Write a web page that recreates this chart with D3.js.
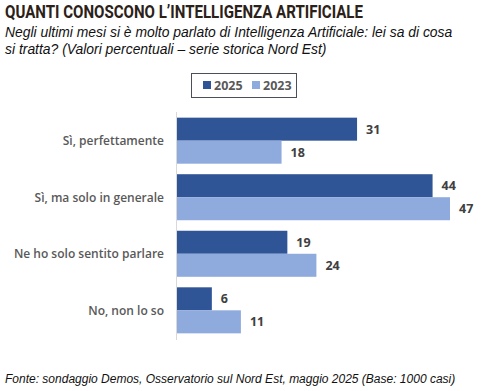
<!DOCTYPE html>
<html><head><meta charset="utf-8">
<script src="https://cdn.jsdelivr.net/npm/d3@7"></script>
<style>body{margin:0;background:#fff}</style>
</head><body>
<script>
const categories = ["Sì, perfettamente", "Sì, ma solo in generale", "Ne ho solo sentito parlare", "No, non lo so"];
const seriesNames = ["2025", "2023"];
const values2025 = [31, 44, 19, 6];
const values2023 = [18, 47, 24, 11];
const colors = ["#2F5597", "#8FAADC"];

const W = 485, H = 391;
const svg = d3.select("body").append("svg").attr("width", W).attr("height", H);
svg.append("rect").attr("width", W).attr("height", H).attr("fill", "#fff");

svg.append("text").attr("x", 5).attr("y", 18)
  .attr("font-family", "Roboto").attr("font-weight", 700).attr("font-size", 18)
  .attr("fill", "#2b2118").attr("textLength", 358).attr("lengthAdjust", "spacingAndGlyphs")
  .text("QUANTI CONOSCONO L’INTELLIGENZA ARTIFICIALE");

const sub = ["Negli ultimi mesi si è molto parlato di Intelligenza Artificiale: lei sa di cosa",
             "si tratta? (Valori percentuali – serie storica Nord Est)"];
sub.forEach((t, i) => svg.append("text").attr("x", 5).attr("y", 37 + i * 17)
  .attr("font-family", "Liberation Sans, Arial").attr("font-style", "italic").attr("font-size", 13.9)
  .attr("fill", "#111").text(t));

// legend
const lg = svg.append("g");
lg.append("rect").attr("x", 191.5).attr("y", 73.5).attr("width", 105).attr("height", 24)
  .attr("fill", "none").attr("stroke", "#4a4f5a").attr("stroke-width", 1);
const legX = [203, 252];
seriesNames.forEach((s, i) => {
  lg.append("rect").attr("x", legX[i]).attr("y", 81).attr("width", 8).attr("height", 8).attr("fill", colors[i]);
  lg.append("text").attr("x", legX[i] + 11).attr("y", 90)
    .attr("font-family", "Open Sans").attr("font-weight", 700).attr("font-size", 12.5)
    .attr("fill", "#595959").text(s);
});

const x0 = 177;
const x = d3.scaleLinear().domain([0, 47]).range([x0, 450]);
const y = d3.scaleBand().domain(categories).range([112, 339]).paddingInner(0.186).paddingOuter(0.1);
const ySub = d3.scaleBand().domain(seriesNames).range([0, y.bandwidth()]);

const data = [values2025, values2023];
categories.forEach((c, ci) => {
  seriesNames.forEach((s, si) => {
    const v = data[si][ci];
    const yy = y(c) + ySub(s);
    svg.append("rect").attr("x", x(0)).attr("y", yy).attr("width", x(v) - x(0))
      .attr("height", ySub.bandwidth()).attr("fill", colors[si]);
    svg.append("text").attr("x", x(v) + 9).attr("y", yy + ySub.bandwidth() / 2 + 4.5)
      .attr("font-family", "Open Sans").attr("font-weight", 700).attr("font-size", 12.5)
      .attr("fill", "#404040").text(v);
  });
  svg.append("text").attr("x", 164).attr("y", y(c) + y.bandwidth() / 2 + 4.5)
    .attr("text-anchor", "end")
    .attr("font-family", "Open Sans").attr("font-weight", 600).attr("font-size", 12)
    .attr("fill", "#595959").text(c);
});

svg.append("line").attr("x1", x0 - 0.5).attr("x2", x0 - 0.5).attr("y1", 112).attr("y2", 340)
  .attr("stroke", "#d9d9d9").attr("stroke-width", 1);

svg.append("text").attr("x", 5).attr("y", 383)
  .attr("font-family", "Liberation Sans, Arial").attr("font-style", "italic").attr("font-size", 12)
  .attr("fill", "#111").text("Fonte: sondaggio Demos, Osservatorio sul Nord Est, maggio 2025 (Base: 1000 casi)");
</script>
</body></html>
